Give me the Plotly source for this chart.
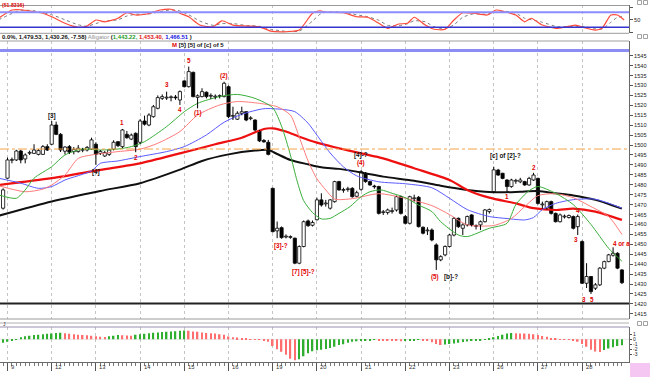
import plotly.graph_objects as go

# ---------------- data ----------------
bar_index = list(range(-1, 140))

opens = [1468.2, 1483.3, 1492.3, 1492.5, 1497.0, 1493.0, 1495.9, 1495.8, 1495.3, 1495.3, 1499.2,
         1500.4, 1510.1, 1505.4, 1496.9, 1499.2, 1496.7, 1496.7, 1497.4, 1497.5, 1497.9,
         1500.4, 1495.8, 1494.5, 1495.3, 1497.9, 1501.7, 1499.2, 1505.4, 1503.0, 1505.9,
         1501.4, 1512.1, 1510.1, 1514.3, 1518.5, 1523.5, 1523.7, 1523.9, 1524.2, 1522.7,
         1532.3, 1529.4, 1536.6, 1524.0, 1524.4, 1526.6, 1524.6, 1524.2, 1524.5, 1524.4,
         1529.4, 1514.5, 1513.0, 1516.0, 1516.8, 1513.3, 1512.6, 1507.1, 1502.3, 1501.4,
         1478.2, 1456.8, 1458.4, 1453.7, 1453.5, 1453.1, 1440.5, 1448.9, 1461.8, 1459.6,
         1462.4, 1472.4, 1470.4, 1468.2, 1471.5, 1481.6, 1477.2, 1477.6, 1478.2, 1474.2,
         1477.7, 1485.8, 1481.6, 1479.3, 1479.1, 1466.0, 1466.0, 1466.5, 1467.3, 1474.0,
         1464.0, 1460.6, 1473.0, 1473.7, 1458.6, 1456.8, 1457.2, 1449.7, 1442.2, 1444.7,
         1448.9, 1454.7, 1463.1, 1458.1, 1459.8, 1464.8, 1459.0, 1459.8, 1461.4, 1466.5,
         1476.5, 1487.4, 1485.8, 1482.4, 1479.1, 1481.8, 1481.5, 1481.6, 1479.9, 1482.4,
         1483.2, 1469.9, 1468.2, 1471.5, 1465.6, 1461.4, 1463.8, 1463.5, 1464.0, 1458.9,
         1451.4, 1430.4, 1433.8, 1427.9, 1429.6, 1438.0, 1441.3, 1444.5, 1445.5, 1437.1]
highs = [1478.2, 1493.7, 1493.7, 1497.6, 1497.6, 1495.8, 1497.2, 1500.4, 1498.0, 1500.0, 1500.4,
         1512.1, 1511.8, 1506.0, 1499.4, 1500.0, 1499.0, 1500.0, 1498.6, 1499.5, 1503.7,
         1501.4, 1497.5, 1497.0, 1497.9, 1502.4, 1502.0, 1508.1, 1507.1, 1505.8, 1506.4,
         1513.0, 1514.8, 1516.0, 1520.2, 1525.0, 1525.5, 1526.9, 1525.0, 1525.2, 1527.5,
         1532.6, 1539.5, 1537.0, 1525.5, 1528.6, 1527.0, 1526.0, 1525.5, 1525.5, 1531.9,
         1530.0, 1519.3, 1517.0, 1519.3, 1517.0, 1514.5, 1513.0, 1507.6, 1503.0, 1502.6,
         1478.5, 1461.5, 1459.0, 1455.0, 1454.5, 1453.4, 1449.5, 1462.0, 1462.5, 1462.0,
         1473.5, 1475.7, 1472.4, 1472.8, 1482.0, 1482.0, 1478.5, 1479.0, 1478.8, 1477.0,
         1487.4, 1486.4, 1482.0, 1480.0, 1479.5, 1467.3, 1468.0, 1468.5, 1474.5, 1474.5,
         1464.8, 1474.5, 1475.0, 1474.3, 1459.0, 1458.6, 1458.0, 1450.5, 1444.5, 1449.5,
         1455.2, 1463.6, 1463.5, 1460.5, 1464.5, 1465.2, 1460.0, 1462.0, 1467.8, 1468.0,
         1489.1, 1488.0, 1486.0, 1482.8, 1483.0, 1483.0, 1483.5, 1482.0, 1484.0, 1486.0,
         1483.6, 1471.5, 1472.0, 1472.0, 1466.0, 1465.5, 1465.0, 1465.0, 1464.5, 1465.0,
         1452.0, 1440.5, 1434.0, 1430.5, 1438.5, 1441.8, 1445.2, 1448.5, 1446.0, 1437.5]
lows = [1467.5, 1483.0, 1490.8, 1492.0, 1490.8, 1490.8, 1495.0, 1495.5, 1494.8, 1495.0, 1497.0,
        1500.0, 1505.0, 1496.5, 1495.3, 1495.5, 1495.3, 1496.2, 1496.4, 1496.8, 1497.5,
        1490.0, 1495.0, 1494.0, 1494.5, 1497.3, 1499.0, 1498.5, 1503.2, 1502.5, 1496.4,
        1500.5, 1509.8, 1509.5, 1513.8, 1518.0, 1522.7, 1522.7, 1522.0, 1522.8, 1520.2,
        1529.0, 1529.0, 1524.0, 1518.5, 1524.0, 1523.5, 1523.2, 1523.0, 1523.5, 1524.0,
        1513.5, 1512.6, 1512.6, 1515.0, 1512.0, 1512.5, 1507.0, 1501.5, 1501.2, 1494.8,
        1456.0, 1453.1, 1452.8, 1453.0, 1452.8, 1440.0, 1440.0, 1448.5, 1458.8, 1459.0,
        1462.0, 1469.0, 1469.0, 1467.5, 1471.0, 1477.0, 1476.0, 1476.5, 1473.5, 1473.8,
        1477.0, 1481.0, 1479.5, 1478.0, 1465.0, 1464.8, 1465.0, 1465.5, 1466.5, 1465.0,
        1460.0, 1460.0, 1471.5, 1458.5, 1455.0, 1454.7, 1451.5, 1437.1, 1441.5, 1444.0,
        1448.5, 1454.0, 1458.3, 1454.7, 1459.0, 1459.0, 1457.5, 1457.2, 1461.0, 1465.5,
        1476.0, 1484.5, 1482.8, 1476.5, 1478.5, 1480.5, 1480.8, 1479.5, 1479.5, 1482.0,
        1470.0, 1468.0, 1467.5, 1465.0, 1461.0, 1461.0, 1463.0, 1463.0, 1457.5, 1454.7,
        1430.0, 1428.0, 1425.0, 1427.0, 1429.0, 1437.5, 1441.0, 1443.8, 1437.5, 1430.0]
closes = [1477.4, 1492.5, 1492.7, 1497.0, 1492.5, 1495.0, 1496.3, 1497.5, 1497.2, 1499.2, 1497.5,
          1510.1, 1505.4, 1497.5, 1499.0, 1496.4, 1497.8, 1498.4, 1497.8, 1498.8, 1502.6,
          1495.3, 1496.8, 1496.2, 1497.5, 1501.4, 1499.7, 1507.6, 1503.7, 1505.0, 1499.2,
          1512.1, 1510.5, 1515.1, 1519.3, 1523.9, 1524.4, 1524.1, 1524.3, 1523.8, 1526.9,
          1529.4, 1537.0, 1524.4, 1524.8, 1526.9, 1524.4, 1525.0, 1524.6, 1524.9, 1531.1,
          1514.3, 1514.9, 1516.0, 1516.8, 1512.6, 1513.7, 1507.6, 1502.1, 1501.6, 1495.3,
          1456.4, 1458.1, 1453.4, 1454.1, 1453.9, 1440.5, 1448.9, 1461.4, 1459.4, 1461.0,
          1472.4, 1469.8, 1470.8, 1472.4, 1481.6, 1477.4, 1477.6, 1478.0, 1474.0, 1476.0,
          1486.6, 1481.6, 1479.9, 1479.0, 1465.6, 1466.4, 1467.3, 1467.0, 1474.0, 1465.6,
          1460.6, 1474.0, 1473.4, 1458.9, 1455.6, 1457.2, 1452.2, 1442.2, 1443.8, 1448.9,
          1454.7, 1463.1, 1458.9, 1459.8, 1464.0, 1459.8, 1459.5, 1461.4, 1467.3, 1467.5,
          1487.5, 1484.9, 1483.2, 1479.1, 1482.4, 1482.2, 1482.4, 1479.9, 1483.2, 1484.9,
          1470.6, 1470.3, 1471.5, 1465.6, 1461.4, 1464.8, 1464.2, 1464.5, 1458.1, 1464.0,
          1430.4, 1433.8, 1426.2, 1429.6, 1438.0, 1441.3, 1444.7, 1445.5, 1438.0, 1430.7]

day_start_idx = [0, 10, 20, 30, 40, 50, 60, 70, 80, 90, 100, 110, 120, 130]
day_labels = ["9", "12", "13", "14", "15", "16", "19", "20", "21", "22", "23", "26", "27", "28"]
stoch_grid_idx = [10, 60, 110, 130]
price_ticks = list(range(1415, 1550, 5))

black_ma_x = [-2, 10, 21, 30, 39, 44, 50, 56, 59, 61, 64, 68, 71, 75, 80, 85, 92, 98, 104, 108,
              112, 116, 120, 124, 128, 133, 136, 139]
black_ma_y = [1464.4, 1471.6, 1476.9, 1480.8, 1487.6, 1492.0, 1495.3, 1497.2, 1497.5, 1495.5,
              1492.5, 1490.3, 1488.8, 1488.0, 1486.2, 1484.1, 1482.0, 1479.5, 1477.4, 1476.5,
              1476.2, 1476.5, 1476.8, 1475.7, 1474.6, 1472.4, 1470.3, 1468.0]
red_ma_x = [-2, 10, 21, 30, 39, 47, 53, 58, 60, 63, 66, 70, 74, 80, 85, 92, 100, 104, 109, 115,
            119, 124, 128, 133, 139]
red_ma_y = [1479.9, 1483.3, 1487.5, 1490.8, 1495.8, 1500.4, 1503.7, 1508.1, 1508.4, 1506.8,
            1504.2, 1501.2, 1498.9, 1495.8, 1493.3, 1488.3, 1482.4, 1477.4, 1473.5, 1470.6,
            1468.2, 1467.3, 1468.0, 1466.5, 1462.3]
blue_x = [-2, 3, 7, 10, 13, 19, 21, 25, 30, 36, 40, 45, 49, 53, 58, 62, 65, 68, 70, 73, 76, 79,
          84, 90, 96, 100, 104, 109, 113, 117, 119, 121, 124, 128, 133, 139]
blue_y = [1483.3, 1480.8, 1478.2, 1479.1, 1482.4, 1487.0, 1490.8, 1492.0, 1494.2, 1496.7,
          1499.2, 1505.1, 1511.5, 1515.5, 1518.3, 1518.0, 1516.8, 1511.0, 1505.0, 1496.0,
          1489.0, 1484.5, 1481.5, 1480.5, 1478.5, 1473.2, 1467.5, 1464.0, 1463.0, 1462.3,
          1463.5, 1467.5, 1470.6, 1472.5, 1472.7, 1468.2]
pink_x = [-2, 4, 8, 10, 13, 16, 19, 25, 30, 34, 39, 43, 48, 52, 57, 61, 64, 66, 68, 70, 72, 74,
          78, 84, 90, 96, 100, 104, 110, 114, 117, 120, 124, 128, 132, 136, 139]
pink_y = [1479.5, 1476.5, 1477.8, 1479.9, 1484.9, 1493.3, 1495.0, 1496.7, 1497.9, 1500.9,
          1506.8, 1515.1, 1520.2, 1521.9, 1521.0, 1519.3, 1515.1, 1504.0, 1492.0, 1483.0,
          1477.4, 1472.8, 1473.0, 1475.5, 1473.2, 1469.5, 1465.0, 1459.8, 1459.5, 1463.0,
          1469.0, 1474.5, 1475.5, 1473.5, 1469.0, 1464.0, 1455.0]
green_x = [-2, 2, 4, 6, 10, 13, 17, 21, 25, 28, 31, 36, 40, 43, 48, 52, 56, 60, 62, 64, 65.5,
           67, 69, 71, 73, 75, 77.5, 80, 82, 84.5, 87, 90, 93, 96, 98, 102, 104, 109, 113, 115,
           118, 120, 124, 128, 132, 136, 139]
green_y = [1474.9, 1473.2, 1477.4, 1483.3, 1489.1, 1495.0, 1498.0, 1497.5, 1498.0, 1499.2,
           1501.7, 1509.3, 1516.8, 1521.0, 1524.4, 1525.5, 1523.5, 1518.8, 1509.5, 1495.0,
           1482.0, 1472.0, 1466.0, 1462.8, 1463.1, 1465.6, 1469.0, 1474.0, 1476.5, 1477.4,
           1475.7, 1473.5, 1469.8, 1466.5, 1461.4, 1454.7, 1453.9, 1458.1, 1460.6, 1470.0,
           1477.0, 1479.1, 1475.7, 1470.0, 1460.0, 1448.0, 1441.5]

stoch_x = [-2, 1, 3, 6, 8, 10, 13, 16, 18, 20, 22, 25, 27, 29, 31.5, 34.5, 37, 39, 41, 43.5,
           46.5, 48.5, 51, 54, 57, 59.5, 62.5, 66, 69, 70.7, 72, 76, 79, 81.5, 84, 86, 88.5,
           90.5, 92, 94.5, 96.5, 99, 101, 103, 105.5, 108.5, 110.5, 112.5, 115, 117, 118.5,
           121, 124.5, 128.5, 130.5, 133, 134.5, 136.5, 138, 139.5]
stoch_k = [56, 89, 90, 82, 76, 62, 36, 20, 25, 49, 42, 56, 78, 69, 73, 89, 92, 76, 62, 29,
           22, 46, 29, 25, 22, 5, 2, 9, 76, 86, 80, 78, 62, 60, 36, 16, 33, 36, 60, 29,
           12, 12, 49, 78, 76, 69, 89, 82, 69, 42, 56, 29, 16, 29, 18, 9, 16, 69, 69, 49]
stoch_d = [50, 75, 88, 86, 79, 70, 50, 30, 24, 35, 45, 50, 65, 72, 72, 82, 90, 85, 70, 45,
           28, 35, 35, 27, 24, 12, 5, 5, 45, 72, 80, 80, 70, 62, 48, 28, 26, 34, 46, 42,
           22, 14, 30, 60, 74, 72, 80, 84, 76, 56, 50, 40, 22, 24, 22, 14, 13, 40, 60, 62]

ao_values = [-0.7, -0.5, -0.3, -0.1, 0.4, 0.6, 0.7, 0.85, 0.9, 1.0, 1.1,
             1.15, 1.25, 1.3, 1.2, 1.1, 1.0, 0.9, 0.85, 0.8, 0.7,
             0.6, 0.5, 0.45, 0.6, 0.7, 0.85, 0.8, 0.75, 0.7, 0.9,
             1.0, 1.1, 1.2, 1.3, 1.35, 1.45, 1.5, 1.55, 1.6, 1.7,
             1.75, 1.7, 1.55, 1.5, 1.35, 1.25, 1.2, 1.15, 1.0, 0.9,
             0.55, 0.4, 0.35, 0.15, 0.08, 0.05, 0.03, 0.02, -0.15, -0.5,
             -1.35, -2.0, -2.5, -3.1, -3.9, -4.2, -4.0, -3.4, -2.8, -2.4,
             -2.2, -2.1, -1.95, -1.75, -1.5, -1.15, -1.0, -0.7, -0.5, -0.4,
             -0.3, -0.25, -0.2, -0.13, -0.15, -0.2, -0.27, -0.3, -0.35, -0.4,
             -0.3, -0.25, -0.18, -0.12, -0.2, -0.35, -0.6, -0.95, -1.15, -1.05,
             -0.95, -0.85, -0.7, -0.55, -0.45, -0.35, -0.25, -0.15, -0.05, 0.1,
             0.4, 0.65, 0.9, 1.15, 1.25, 1.2, 1.18, 1.15, 1.1, 1.0,
             0.85, 0.65, 0.5, 0.15, 0.08, 0.06, -0.05, -0.12, -0.3, -0.5,
             -0.95, -1.5, -2.1, -2.45, -2.55, -2.15, -1.85, -1.6, -1.35, -1.2]

# wave labels: (text, bar index, price, colour key)
wave_labels = [
    ("[3]", 10, 1514.7, "k"), ("[4]", 20, 1486.4, "k"),
    ("1", 26, 1511.6, "r"), ("2", 29, 1493.8, "r"), ("3", 36, 1530.5, "r"),
    ("4", 39, 1517.8, "r"), ("5", 41, 1542.6, "r"), ("(1)", 43, 1516.3, "r"),
    ("(2)", 49, 1534.6, "r"), ("[3]-?", 61.8, 1449.2, "r"), ("[7]", 65.2, 1436.3, "r"),
    ("[5]-?", 68.0, 1436.3, "r"), ("[4]-?", 80, 1495.2, "k"), ("(4)", 80, 1491.2, "r"),
    ("(5)", 96.8, 1433.8, "r"), ("[b]-?", 100.3, 1433.8, "k"),
    ("[c] of [2]-?", 112.6, 1494.6, "k"), ("1", 113, 1474.3, "r"), ("2", 119, 1488.6, "r"),
    ("4", 129, 1466.8, "r"), ("3", 128.6, 1452.6, "r"), ("3", 130.4, 1422.4, "r"),
    ("5", 132.2, 1422.4, "r"), ("4 or a", 138.9, 1450.6, "r"),
]

# ---------------- geometry helpers ----------------
PLOT_R = 629.0
PLOT_B = 362.0


def pfx(x):
    return x / PLOT_R


def pfy(y):
    return (PLOT_B - y) / PLOT_B


X_RANGE = [-1.70, 140.6]
FONT = "Liberation Sans"
RED = "#e00000"

fig = go.Figure()


def ma_line(xs, ys, color, width):
    fig.add_trace(go.Scatter(x=xs, y=ys, mode="lines", xaxis="x2", yaxis="y2",
                             line=dict(color=color, width=width, shape="spline", smoothing=0.7),
                             hoverinfo="skip"))


ma_line(black_ma_x, black_ma_y, "#101010", 2.0)
ma_line(red_ma_x, red_ma_y, "#ee1010", 2.2)
ma_line(blue_x, blue_y, "#5a5aff", 1.0)
ma_line(pink_x, pink_y, "#ff7a7a", 1.0)
ma_line(green_x, green_y, "#3aae3a", 1.0)

# ---- candles: wicks (split so they do not cross white bodies) ----
wx, wy = [], []
for i, o, h, l, c in zip(bar_index, opens, highs, lows, closes):
    top, bot = max(o, c), min(o, c)
    if h > top:
        wx += [i, i, None]
        wy += [top, h, None]
    if l < bot:
        wx += [i, i, None]
        wy += [l, bot, None]
fig.add_trace(go.Scatter(x=wx, y=wy, mode="lines", xaxis="x2", yaxis="y2",
                         line=dict(color="#000000", width=1), hoverinfo="skip"))

body_base = [min(o, c) for o, c in zip(opens, closes)]
body_h = [max(abs(c - o), 0.35) for o, c in zip(opens, closes)]
body_fill = ["#ffffff" if c >= o else "#000000" for o, c in zip(opens, closes)]
fig.add_trace(go.Bar(x=bar_index, y=body_h, base=body_base, width=0.72, xaxis="x2", yaxis="y2",
                     marker=dict(color=body_fill, line=dict(color="#000000", width=0.8)),
                     hoverinfo="skip"))

# ---- oscillator histogram ----
ao_colors = []
prev = None
for v in ao_values:
    ao_colors.append("#2fae2f" if (prev is None or v >= prev) else "#ff6f6f")
    prev = v
fig.add_trace(go.Bar(x=bar_index, y=ao_values, width=0.34, xaxis="x3", yaxis="y3",
                     marker=dict(color=ao_colors, line=dict(width=0)), hoverinfo="skip"))

# ---- stochastic ----
fig.add_trace(go.Scatter(x=stoch_x, y=stoch_d, mode="lines", xaxis="x", yaxis="y",
                         line=dict(color="#7a7a7a", width=1, dash="dot", shape="spline", smoothing=0.6),
                         hoverinfo="skip"))
fig.add_trace(go.Scatter(x=stoch_x, y=stoch_k, mode="lines", xaxis="x", yaxis="y",
                         line=dict(color="#ff4a3a", width=1.2, shape="spline", smoothing=0.6),
                         hoverinfo="skip"))

# ---------------- layout ----------------
grid_common = dict(range=X_RANGE, showticklabels=False, zeroline=False, fixedrange=True,
                   showgrid=True, gridcolor="#c4c4c4", griddash="dot", gridwidth=1,
                   tickmode="array", domain=[0, 1])

ytick_font = dict(family=FONT, size=5.6, color="#202020")

fig.update_layout(
    width=650, height=377,
    margin=dict(l=0, r=21, t=0, b=15),
    paper_bgcolor="white", plot_bgcolor="white",
    showlegend=False, hovermode=False, barmode="overlay",
    template="none",
    font=dict(family=FONT, size=6, color="#202020"),
    xaxis=dict(**grid_common, anchor="y", tickvals=stoch_grid_idx, ticks="", showline=False),
    xaxis2=dict(**grid_common, anchor="y2", tickvals=day_start_idx, ticks="", showline=False),
    xaxis3=dict(**grid_common, anchor="y3", tickvals=day_start_idx, ticks="outside", ticklen=8,
                tickcolor="#555555", tickwidth=1, showline=True, linecolor="#6a6a6a", linewidth=1,
                minor=dict(tickmode="array", tickvals=bar_index, ticks="outside", ticklen=3,
                           tickcolor="#777777", showgrid=False)),
    yaxis=dict(domain=[pfy(33.3), pfy(5)], range=[-4, 109], side="right", anchor="x",
               showgrid=False, zeroline=False, fixedrange=True, tickmode="array",
               tickvals=[0, 50, 100], ticktext=["", "50", ""], ticks="outside", ticklen=3,
               tickcolor="#555555", tickfont=ytick_font, showline=True, linecolor="#6a6a6a",
               automargin=False),
    yaxis2=dict(domain=[pfy(319), pfy(41)], range=[1412.4, 1552.4], side="right", anchor="x2",
                showgrid=False, zeroline=False, fixedrange=True, tickmode="array",
                tickvals=price_ticks, ticktext=[str(v) for v in price_ticks], ticks="outside",
                ticklen=3, tickcolor="#555555", tickfont=ytick_font, showline=True,
                linecolor="#6a6a6a", automargin=False),
    yaxis3=dict(domain=[pfy(361.7), pfy(327)], range=[-4.48, 2.46], side="right", anchor="x3",
                showgrid=False, zeroline=False, fixedrange=True, tickmode="array",
                tickvals=[1, 0, -1, -2, -3], ticktext=["1", "0", "-1", "-2", "-3"],
                ticks="outside", ticklen=2, tickcolor="#555555",
                tickfont=dict(family=FONT, size=5, color="#202020"), showline=True,
                linecolor="#6a6a6a", automargin=False),
)

shapes = []
for ypx, col in [(5.5, "#9a9a9a"), (33.3, "#9a9a9a"), (41, "#a0a0a0"), (319, "#9a9a9a"),
                 (323, "#b0b0b0"), (327, "#9890b0")]:
    shapes.append(dict(type="line", xref="paper", yref="paper", x0=0, x1=1,
                       y0=pfy(ypx), y1=pfy(ypx), line=dict(color=col, width=1)))
shapes.append(dict(type="line", xref="paper", yref="y", x0=0, x1=1, y0=80, y1=80,
                   line=dict(color="#8c8cff", width=2)))
shapes.append(dict(type="line", xref="paper", yref="y", x0=0, x1=1, y0=20, y1=20,
                   line=dict(color="#3434d0", width=1.5)))
shapes.append(dict(type="line", xref="paper", yref="y2", x0=0, x1=1, y0=1547.6, y1=1547.6,
                   line=dict(color="#8c8cf5", width=3)))
shapes.append(dict(type="line", xref="paper", yref="y2", x0=0, x1=1, y0=1498.0, y1=1498.0,
                   line=dict(color="#f5a54a", width=1, dash="dashdot")))
shapes.append(dict(type="line", xref="paper", yref="y2", x0=0, x1=1, y0=1420.2, y1=1420.2,
                   line=dict(color="#222222", width=2)))
shapes.append(dict(type="line", xref="paper", yref="y3", x0=0, x1=1, y0=0, y1=0,
                   line=dict(color="#e6e6e6", width=1), layer="below"))
shapes.append(dict(type="rect", xref="paper", yref="paper", x0=pfx(630), x1=pfx(650),
                   y0=pfy(377), y1=pfy(363), fillcolor="#f6c6f2", line=dict(width=0)))
for ypx in (0.5, 34.5, 321.5):
    for xpx in (637.5, 643.5):
        shapes.append(dict(type="rect", xref="paper", yref="paper", x0=pfx(xpx), x1=pfx(xpx + 4),
                           y0=pfy(ypx + 4), y1=pfy(ypx), line=dict(color="#8a8a8a", width=0.8),
                           fillcolor="white"))
fig.update_layout(shapes=shapes)

ann = []
for txt, xi, py, ck in wave_labels:
    ann.append(dict(x=xi, y=py, xref="x2", yref="y2", text="<b>" + txt + "</b>", showarrow=False,
                    font=dict(family=FONT, size=6.3, color=RED if ck == "r" else "#111111"),
                    xanchor="center", yanchor="middle"))
for xi, lab in zip(day_start_idx, day_labels):
    ann.append(dict(x=xi, y=pfy(366.8), xref="x3", yref="paper", text=lab, showarrow=False,
                    xanchor="left", yanchor="middle", xshift=1.5,
                    font=dict(family=FONT, size=5.8, color="#303030")))
ann.append(dict(x=0, y=1.0, xref="paper", yref="paper", text="<b>(51.8316)</b>",
                showarrow=False, xanchor="left", yanchor="top",
                font=dict(family=FONT, size=5.2, color=RED)))
hdr = ("<b>0.0%, 1,479.53, 1,430.26, -7.58)</b> "
       "<span style='color:#8f8f8f'>Alligator</span> "
       "<b>(<span style='color:#1f9a1f'>1,443.22,</span> "
       "<span style='color:#e01010'>1,453.40,</span> "
       "<span style='color:#1515e0'>1,466.51</span> )</b>")
ann.append(dict(x=0, y=pfy(37.2), xref="paper", yref="paper", text=hdr, showarrow=False,
                xanchor="left", yanchor="middle", font=dict(family=FONT, size=5.9, color="#111111")))
ann.append(dict(x=pfx(170), y=pfy(44.6), xref="paper", yref="paper",
                text="<b><span style='color:#e00000'>M</span> [5] [5] of [c] of 5</b>",
                showarrow=False, xanchor="left", yanchor="middle",
                font=dict(family=FONT, size=6, color="#111111")))
ann.append(dict(x=pfx(1), y=pfy(323.5), xref="paper", yref="paper", text="J", showarrow=False,
                xanchor="left", yanchor="middle", font=dict(family=FONT, size=5, color="#333333")))
fig.update_layout(annotations=ann)

fig.write_html("out.html")
